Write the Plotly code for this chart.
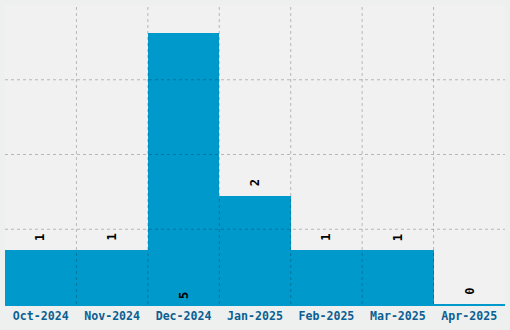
import plotly.graph_objects as go

categories = ["Oct-2024", "Nov-2024", "Dec-2024", "Jan-2025", "Feb-2025", "Mar-2025", "Apr-2025"]
values = [1, 1, 5, 2, 1, 1, 0]
label_inside = [False, False, True, False, False, False, False]

y_max = 5.52

fig = go.Figure(
    go.Bar(
        x=categories,
        y=values,
        marker=dict(color="#0099cc", line=dict(width=0)),
        cliponaxis=False,
    )
)

annotations = []
for c, v, inside in zip(categories, values, label_inside):
    annotations.append(dict(
        x=c, y=0 if inside else v, xref="x", yref="y",
        text=str(v), showarrow=False, textangle=-90,
        xanchor="center", yanchor="bottom", yshift=3 if inside else 7,
        font=dict(family="DejaVu Sans Mono", size=12, color="#000000", weight="bold"),
    ))

shapes = []
for i in range(len(categories) - 1):
    shapes.append(dict(type="line", xref="x", yref="y domain", x0=i + 0.5, x1=i + 0.5, y0=0, y1=1,
                       line=dict(color="rgba(0,0,0,0.24)", width=1, dash="3px,3px"), layer="above"))
for k in range(1, 4):
    shapes.append(dict(type="line", xref="x domain", yref="y domain", x0=0, x1=1, y0=k / 4, y1=k / 4,
                       line=dict(color="rgba(0,0,0,0.24)", width=1, dash="3px,3px"), layer="above"))

fig.update_layout(
    width=510,
    height=330,
    margin=dict(l=5, r=5, t=5, b=26),
    paper_bgcolor="#eef0f0",
    plot_bgcolor="#f1f1f1",
    bargap=0,
    showlegend=False,
    shapes=shapes,
    annotations=annotations,
)
fig.update_xaxes(
    showgrid=False,
    showline=True,
    linecolor="#0099cc",
    linewidth=1.5,
    ticks="",
    tickfont=dict(family="DejaVu Sans Mono", size=11.6, color="#0b5f92", weight="bold"),
)
fig.update_yaxes(range=[0, y_max], showgrid=False, showticklabels=False, zeroline=False, ticks="")

fig.write_html("out.html")
